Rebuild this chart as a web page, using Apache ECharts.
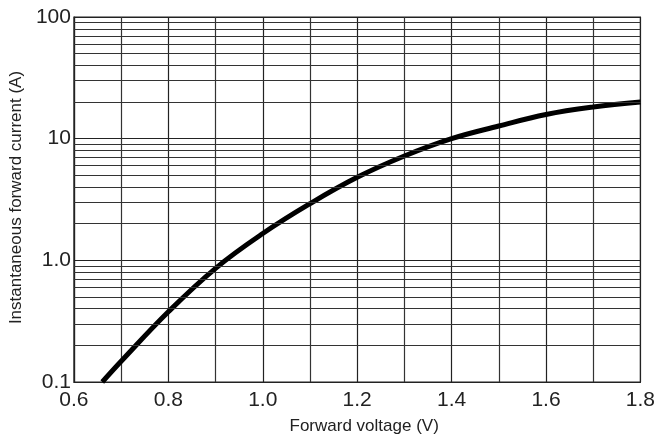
<!DOCTYPE html>
<html>
<head>
<meta charset="utf-8">
<script src="https://cdn.jsdelivr.net/npm/echarts@6/dist/echarts.min.js"></script>
<style>html,body{margin:0;padding:0;background:#fff;}#c{width:658px;height:440px;}</style>
</head>
<body>
<div id="c"></div>
<script>
var voltage = [0.66, 0.7, 0.8, 0.9, 1.0, 1.1, 1.2, 1.3, 1.4, 1.5, 1.6, 1.7, 1.8];
var current = [0.1, 0.148, 0.378, 0.86, 1.66, 2.92, 4.81, 7.2, 10.0, 12.7, 15.8, 18.2, 20.0];
var minorGrid = [0.2,0.3,0.4,0.5,0.6,0.7,0.8,0.9,2,3,4,5,6,7,8,9,20,30,40,50,60,70,80,90];

var pts = voltage.map(function(v,i){return [v,current[i]];});
var chart = echarts.init(document.getElementById('c'), null, {renderer:'canvas'});
var font = 'Liberation Sans, Arial, sans-serif';
chart.setOption({
  animation:false,
  backgroundColor:'#fff',
  grid:{left:73,right:16,top:17,bottom:58,show:true,borderColor:'#222',borderWidth:1.2},
  xAxis:{
    type:'value',min:0.6,max:1.8,interval:0.2,
    name:'Forward voltage (V)',nameLocation:'middle',nameGap:36,
    nameTextStyle:{fontFamily:font,fontSize:17,color:'#222',padding:[0,0,0,14]},
    axisLine:{show:true,lineStyle:{color:'#222',width:1.2}},
    axisTick:{show:false},
    axisLabel:{fontFamily:font,fontSize:21,color:'#222',margin:8,formatter:function(v){return v.toFixed(1);}},
    splitLine:{show:true,lineStyle:{color:'#222',width:1.2}},
    minorTick:{show:false,splitNumber:2},
    minorSplitLine:{show:true,lineStyle:{color:'#333',width:1.2}}
  },
  yAxis:{
    type:'log',min:0.1,max:100,logBase:10,
    name:'Instantaneous forward current (A)',nameLocation:'middle',nameGap:44,
    nameTextStyle:{fontFamily:font,fontSize:17,color:'#222',padding:[0,0,0,4]},
    axisLine:{show:true,lineStyle:{color:'#222',width:1.2}},
    axisTick:{show:false},
    axisLabel:{fontFamily:font,fontSize:21,color:'#222',margin:3,formatter:function(v){
      var r=Math.round(v*10)/10; if(r===0.1) return '0.1'; if(r===1) return '1.0'; return String(Math.round(v));}},
    splitLine:{show:true,lineStyle:{color:'#222',width:1.2}}
  },
  series:[{
    type:'line',data:pts,smooth:0.4,symbol:'none',
    lineStyle:{color:'#000',width:5},
    markLine:{silent:true,symbol:'none',label:{show:false},animation:false,
      lineStyle:{color:'#333',width:1,type:'solid'},
      data:minorGrid.map(function(v){return {yAxis:v};})}
  }]
});
</script>
</body>
</html>
